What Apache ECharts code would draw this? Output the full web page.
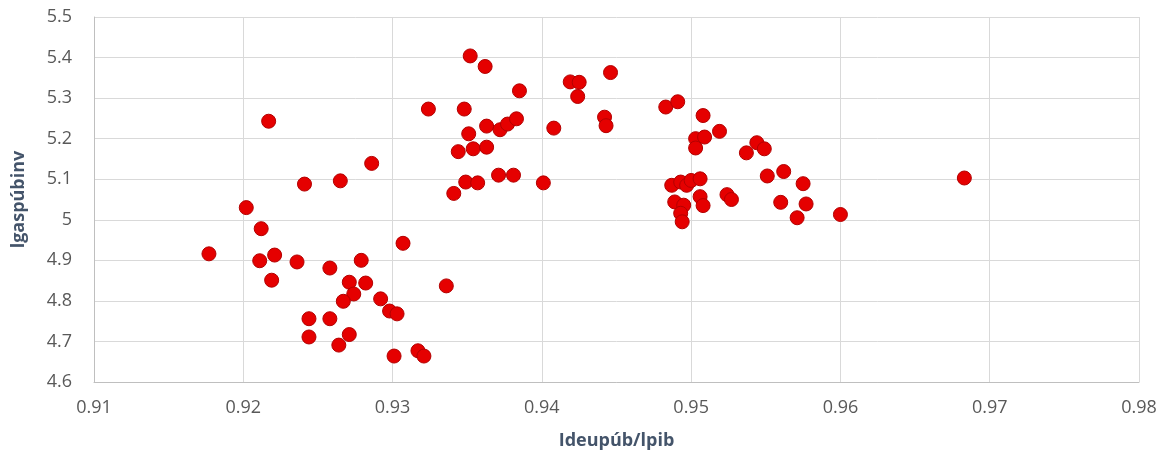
<!DOCTYPE html>
<html>
<head>
<meta charset="utf-8">
<script src="https://cdn.jsdelivr.net/npm/echarts@6/dist/echarts.min.js"></script>
<style>
html,body{margin:0;padding:0;background:#fff;}
#chart{width:1167px;height:455px;}
</style>
</head>
<body>
<div id="chart"></div>
<script>
// x: Ideupúb/lpib, y: lgaspúbinv
const xValues = [
  0.9177,0.9217,0.9286,0.9241,0.9265,0.9202,0.9212,0.9211,0.9221,0.9219,
  0.9236,0.9258,0.9279,0.9271,0.9282,0.9274,0.9267,0.9292,0.9298,0.9303,
  0.9244,0.9258,0.9244,0.9271,0.9264,0.9301,0.9307,0.9336,0.9317,0.9321,
  0.9324,0.9348,0.9352,0.9362,0.9385,0.9351,0.9363,0.9372,0.9377,0.9383,
  0.9344,0.9354,0.9363,0.9349,0.9357,0.9371,0.9381,0.9341,0.9401,0.9408,
  0.9419,0.9425,0.9424,0.9446,0.9442,0.9443,
  0.9483,0.9491,0.9508,0.9519,0.9503,0.9509,0.9503,0.9537,0.9544,0.9549,
  0.9551,0.9562,0.9575,0.9560,0.9577,0.9571,0.9600,0.9683,0.9487,0.9493,
  0.9497,0.9500,0.9506,0.9489,0.9495,0.9493,0.9494,0.9506,0.9508,0.9524,
  0.9527
];
const yValues = [
  4.916,5.243,5.139,5.088,5.096,5.030,4.978,4.899,4.913,4.851,
  4.896,4.881,4.900,4.846,4.844,4.817,4.799,4.805,4.775,4.768,
  4.756,4.756,4.711,4.717,4.691,4.664,4.942,4.837,4.677,4.664,
  5.273,5.273,5.404,5.378,5.318,5.212,5.231,5.222,5.236,5.249,
  5.168,5.175,5.179,5.093,5.091,5.110,5.110,5.065,5.091,5.226,
  5.340,5.339,5.304,5.363,5.253,5.232,
  5.278,5.291,5.257,5.218,5.200,5.204,5.177,5.165,5.190,5.175,
  5.108,5.119,5.089,5.043,5.039,5.005,5.013,5.103,5.085,5.093,
  5.085,5.097,5.101,5.044,5.036,5.016,4.995,5.057,5.035,5.062,
  5.050
];
const xAxisTitle = 'Ideupúb/lpib';
const yAxisTitle = 'lgaspúbinv';
const xMin = 0.91, xMax = 0.98, xStep = 0.01;
const yMin = 4.6, yMax = 5.5, yStep = 0.1;

const points = xValues.map((x, i) => [x, yValues[i]]);
const font = "'Open Sans', 'Noto Sans', sans-serif";

const chart = echarts.init(document.getElementById('chart'));
chart.setOption({
  animation: false,
  backgroundColor: '#ffffff',
  grid: { left: 94, right: 28, top: 17, bottom: 70, containLabel: false },
  xAxis: {
    type: 'value', min: xMin, max: xMax, interval: xStep,
    name: xAxisTitle, nameLocation: 'middle', nameGap: 50,
    nameTextStyle: { color: '#44546a', fontSize: 18, fontWeight: 'bold', fontFamily: font },
    axisLine: { show: true, lineStyle: { color: '#bfbfbf', width: 1 } },
    axisTick: { show: false },
    axisLabel: { color: '#595959', fontSize: 18, fontFamily: font, margin: 17,
      formatter: v => (Math.round(v * 100) / 100).toString() },
    splitLine: { show: true, lineStyle: { color: '#d9d9d9', width: 1 } }
  },
  yAxis: {
    type: 'value', min: yMin, max: yMax, interval: yStep,
    name: yAxisTitle, nameLocation: 'middle', nameGap: 66,
    nameTextStyle: { color: '#44546a', fontSize: 18, fontWeight: 'bold', fontFamily: font },
    axisLine: { show: true, lineStyle: { color: '#bfbfbf', width: 1 } },
    axisTick: { show: false },
    axisLabel: { color: '#595959', fontSize: 18, fontFamily: font, margin: 22,
      formatter: v => (Math.round(v * 10) / 10).toString() },
    splitLine: { show: true, lineStyle: { color: '#d9d9d9', width: 1 } }
  },
  series: [{
    type: 'scatter',
    data: points,
    symbol: 'circle',
    symbolSize: 14,
    itemStyle: { color: '#e50000', borderColor: '#b30000', borderWidth: 1, opacity: 1 }
  }]
});
</script>
</body>
</html>
